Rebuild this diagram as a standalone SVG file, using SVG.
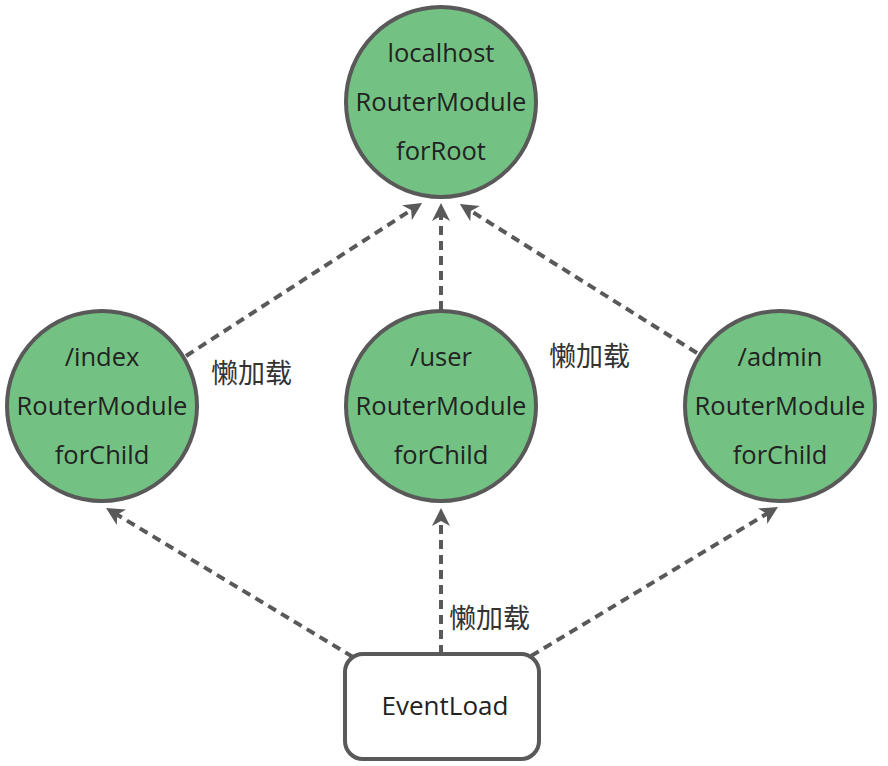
<svg xmlns="http://www.w3.org/2000/svg" width="888" height="766" viewBox="0 0 888 766">
<style>
.node circle{fill:#74c283;stroke:#595959;stroke-width:4}
.node rect{fill:#fff;stroke:#595959;stroke-width:4}
.t{font-family:"Open Sans","Noto Sans",sans-serif;font-size:25.5px;fill:#222;text-anchor:middle;dominant-baseline:central}
.lbl{font-family:"Noto Sans CJK SC",sans-serif;font-size:27px;fill:#333;dominant-baseline:central}
.edge{stroke:#595959;stroke-width:4;stroke-dasharray:9 6;fill:none;marker-end:url(#arr)}
</style>
<defs>
<marker id="arr" markerUnits="userSpaceOnUse" viewBox="-8 -10 22 20" refX="0" refY="0" markerWidth="22" markerHeight="20" orient="auto">
<path d="M12,0 L-6,-9 L-1,0 L-6,9 Z" fill="#595959"/>
</marker>
</defs>
<g id="edges">
<line class="edge" x1="186" y1="356" x2="412" y2="209.5"/>
<line class="edge" x1="441" y1="310" x2="441" y2="215"/>
<line class="edge" x1="697" y1="353" x2="470" y2="210.4"/>
<line class="edge" x1="353" y1="657" x2="116.3" y2="514.2"/>
<line class="edge" x1="441" y1="654" x2="441" y2="520"/>
<line class="edge" x1="531" y1="656" x2="767.7" y2="513.2"/>
<text class="lbl" x="211" y="371">懒加载</text>
<text class="lbl" x="549" y="354">懒加载</text>
<text class="lbl" x="449" y="616">懒加载</text>
</g>
<g id="root" class="node">
<circle cx="441" cy="102" r="95"/>
<text class="t" x="441" y="52">localhost</text>
<text class="t" x="441" y="101">RouterModule</text>
<text class="t" x="441" y="150">forRoot</text>
</g>
<g id="index" class="node">
<circle cx="102" cy="406" r="95"/>
<text class="t" x="102" y="356">/index</text>
<text class="t" x="102" y="405">RouterModule</text>
<text class="t" x="102" y="454">forChild</text>
</g>
<g id="user" class="node">
<circle cx="441" cy="406" r="95"/>
<text class="t" x="441" y="356">/user</text>
<text class="t" x="441" y="405">RouterModule</text>
<text class="t" x="441" y="454">forChild</text>
</g>
<g id="admin" class="node">
<circle cx="780" cy="406" r="95"/>
<text class="t" x="780" y="356">/admin</text>
<text class="t" x="780" y="405">RouterModule</text>
<text class="t" x="780" y="454">forChild</text>
</g>
<g id="eventload" class="node">
<rect x="345" y="654" width="194" height="105" rx="18"/>
<text class="t" x="445" y="705" style="font-size:26px">EventLoad</text>
</g>
</svg>
